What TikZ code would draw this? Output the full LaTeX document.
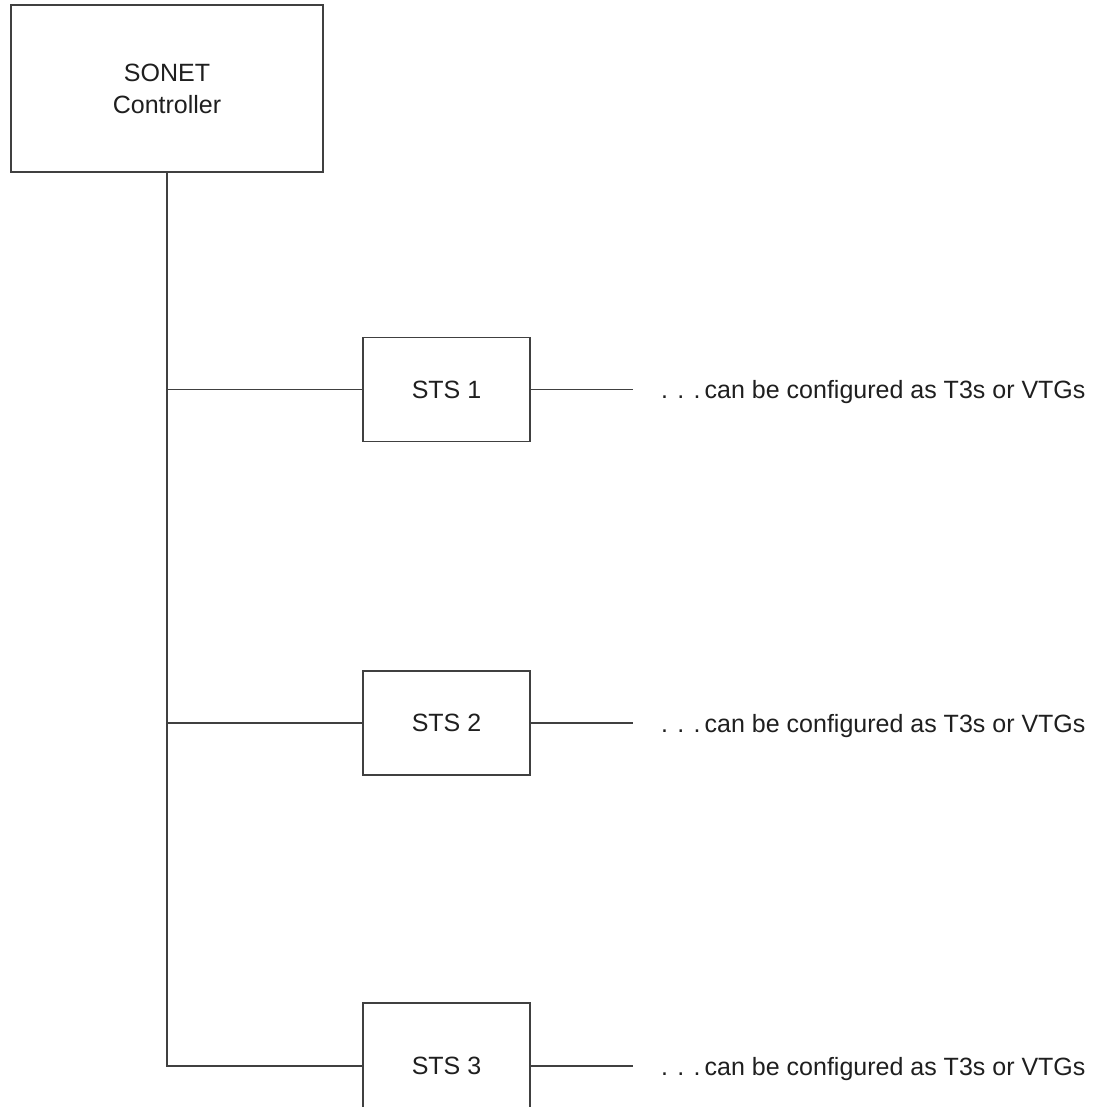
\documentclass[tikz,border=0pt]{standalone}
\usepackage{fontspec}
\setmainfont{Liberation Sans}
\begin{document}
\begin{tikzpicture}[x=1pt,y=-1pt,
  every node/.style={font=\fontsize{25}{32}\selectfont, text=black!88},
  box/.style={draw=black!75, line width=1.3pt, minimum width=167pt, inner sep=0pt},
  wire/.style={draw=black!75, line width=1.3pt},
  note/.style={anchor=base west, inner sep=0pt}]
\clip (0,0) rectangle (1097,1107);
\fill[white] (0,0) rectangle (1097,1107);
\node[box, minimum width=312pt, minimum height=167pt, align=center] (ctrl) at (167,88.5) {SONET\\Controller};
\node[box, minimum height=104pt] (s1) at (446.5,389.5) {STS 1};
\node[box, minimum height=104pt] (s2) at (446.5,723) {STS 2};
\node[box, minimum height=126pt] (s3) at (446.5,1066) {STS 3};
\coordinate (j1) at (167,389.5);
\coordinate (j2) at (167,723);
\coordinate (j3) at (167,1066);
\coordinate (e1) at (633,389.5);
\coordinate (e2) at (633,723);
\coordinate (e3) at (633,1066);
\draw[wire] (ctrl.south) -- (j3) -- (s3.west);
\draw[wire] (j1) -- (s1.west);
\draw[wire] (j2) -- (s2.west);
\draw[wire] (s1.east) -- (e1);
\draw[wire] (s2.east) -- (e2);
\draw[wire] (s3.east) -- (e3);
\node[note] (t1) at (661,398.5) {. . .\,can be configured as T3s or VTGs};
\node[note] (t2) at (661,732) {. . .\,can be configured as T3s or VTGs};
\node[note] (t3) at (661,1075) {. . .\,can be configured as T3s or VTGs};
\end{tikzpicture}
\end{document}
